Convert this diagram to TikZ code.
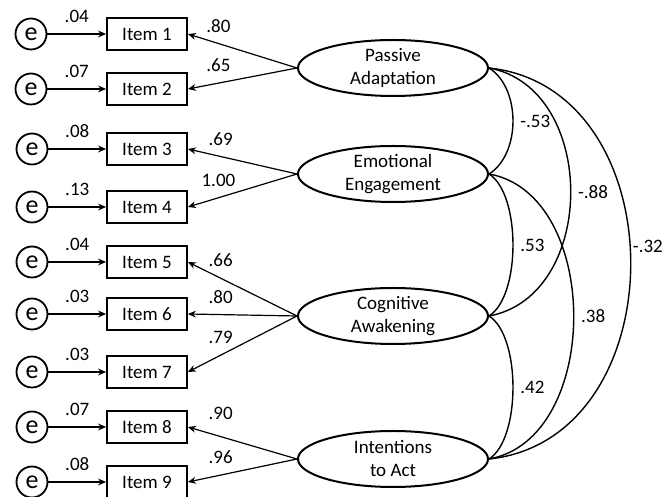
\documentclass[tikz,border=0pt]{standalone}
\usepackage{fontspec}
\setmainfont{Carlito}
\usetikzlibrary{
	shapes.geometric,
	arrows.meta
}

\begin{document}
\begin{tikzpicture}[
		x=0.5pt, y=-0.5pt,
		every node/.style={font=\fontsize{9.5}{11.5}\selectfont},
		framed/.style={draw, line width=0.9pt, minimum width=40pt, minimum height=16pt, inner sep=0pt},
		errvar/.style={draw, circle, line width=0.9pt, minimum size=15.5pt, inner sep=0pt, font=\fontsize{13}{13}\selectfont},
		factor/.style={draw, ellipse, line width=1pt, minimum width=95pt, minimum height=28pt, inner sep=0pt, align=center},
		link/.style={-{Stealth[length=4pt, width=3.4pt]}, line width=0.6pt},
		cov/.style={line width=0.7pt},
		coef/.style={above=2pt}
	]
		\useasboundingbox (0,0) rectangle (666,497);

		% error terms
		\node[errvar] (e1) at (31,34) {e};
		\node[errvar] (e2) at (31,89) {e};
		\node[errvar] (e3) at (32,149) {e};
		\node[errvar] (e4) at (32,207) {e};
		\node[errvar] (e5) at (32,262) {e};
		\node[errvar] (e6) at (32,314) {e};
		\node[errvar] (e7) at (32,372) {e};
		\node[errvar] (e8) at (32,427) {e};
		\node[errvar] (e9) at (32,482) {e};

		% observed items
		\node[framed] (item1) at (147,34) {Item 1};
		\node[framed] (item2) at (147,89) {Item 2};
		\node[framed] (item3) at (147,149) {Item 3};
		\node[framed] (item4) at (147,207) {Item 4};
		\node[framed] (item5) at (147,262) {Item 5};
		\node[framed] (item6) at (147,314) {Item 6};
		\node[framed] (item7) at (147,372) {Item 7};
		\node[framed] (item8) at (147,427) {Item 8};
		\node[framed] (item9) at (147,482) {Item 9};

		% latent factors
		\node[factor] (pa) at (393,68) {Passive\\Adaptation};
		\node[factor] (ee) at (393,174) {Emotional\\Engagement};
		\node[factor] (ca) at (393,316) {Cognitive\\Awakening};
		\node[factor] (ia) at (393,459) {Intentions\\to Act};

		\draw[link] (e1) -- (item1) node[coef, midway] {.04};
		\draw[link] (e2) -- (item2) node[coef, midway] {.07};
		\draw[link] (e3) -- (item3) node[coef, midway] {.08};
		\draw[link] (e4) -- (item4) node[coef, midway] {.13};
		\draw[link] (e5) -- (item5) node[coef, midway] {.04};
		\draw[link] (e6) -- (item6) node[coef, midway] {.03};
		\draw[link] (e7) -- (item7) node[coef, midway] {.03};
		\draw[link] (e8) -- (item8) node[coef, midway] {.07};
		\draw[link] (e9) -- (item9) node[coef, midway] {.08};

		\draw[link] (pa.west) -- (item1.east) node[coef, pos=.72] {.80};
		\draw[link] (pa.west) -- (item2.east) node[coef, pos=.72] {.65};
		\draw[link] (ee.west) -- (item3.east) node[coef, pos=.70] {.69};
		\draw[link] (ee.west) -- (item4.east) node[coef, pos=.72] {1.00};
		\draw[link] (ca.west) -- (item5.east) node[coef, pos=.70] {.66};
		\draw[link] (ca.west) -- (item6.east) node[coef, pos=.70] {.80};
		\draw[link] (ca.west) -- (item7.east) node[coef, pos=.70] {.79};
		\draw[link] (ia.west) -- (item8.east) node[coef, pos=.70, yshift=3pt] {.90};
		\draw[link] (ia.west) -- (item9.east) node[coef, pos=.70] {.96};

		% factor covariances
		\draw[cov] (pa.east) .. controls +(32,20) and +(32,-20) .. (ee.east) node[midway, right] {-.53};
		\draw[cov] (pa.east) .. controls +(109,20) and +(109,-20) .. (ca.east) node[midway, right] {-.88};
		\draw[cov] (pa.east) .. controls +(189,20) and +(189,-20) .. (ia.east) node[pos=.47, right, inner sep=1pt] {-.32};
		\draw[cov] (ee.east) .. controls +(32,20) and +(32,-20) .. (ca.east) node[midway, right] {.53};
		\draw[cov] (ee.east) .. controls +(113,20) and +(113,-20) .. (ia.east) node[midway, right] {.38};
		\draw[cov] (ca.east) .. controls +(32,20) and +(32,-20) .. (ia.east) node[midway, right] {.42};

	\end{tikzpicture}
\end{document}
